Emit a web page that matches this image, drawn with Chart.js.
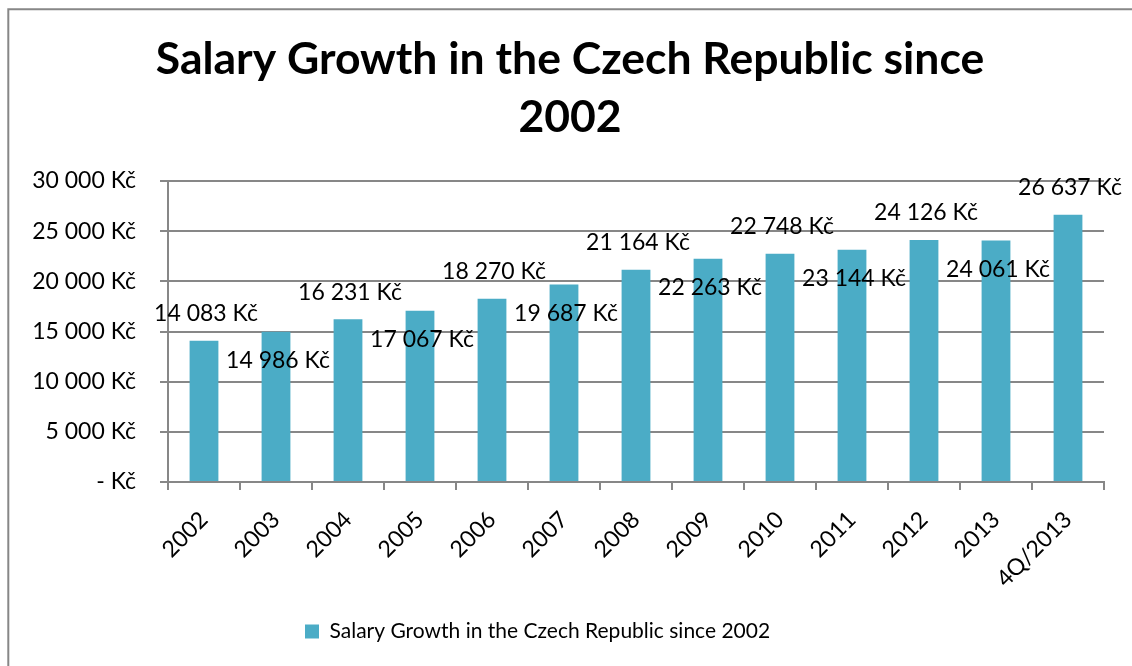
<!DOCTYPE html>
<html><head><meta charset="utf-8">
<script src="https://cdn.jsdelivr.net/npm/chart.js@4.4.1/dist/chart.umd.min.js"></script>
<style>html,body{margin:0;padding:0;background:#fff;overflow:hidden}canvas{display:block}</style>
</head><body>
<canvas id="c" width="1132" height="666"></canvas>
<script>
const titleLines = ['Salary Growth in the Czech Republic since', '2002'];
const seriesName = 'Salary Growth in the Czech Republic since 2002';
const categories = ['2002','2003','2004','2005','2006','2007','2008','2009','2010','2011','2012','2013','4Q/2013'];
const salaries = [14083,14986,16231,17067,18270,19687,21164,22263,22748,23144,24126,24061,26637];
const yTickValues = [0,5000,10000,15000,20000,25000,30000];

const BAR = '#4BACC6';
const GRID = '#878787';
const FONT = 'Lato';

function fmtKc(v){
  if (v === 0) return '- Kč';
  return String(v).replace(/\B(?=(\d{3})+(?!\d))/g, ' ') + ' Kč';
}

const framePlugin = {
  id: 'frame',
  beforeDraw(chart){
    const ctx = chart.ctx;
    ctx.save();
    ctx.fillStyle = '#fff';
    ctx.fillRect(0,0,chart.width,chart.height);
    ctx.strokeStyle = GRID;
    ctx.lineWidth = 2;
    ctx.beginPath();
    ctx.moveTo(8.3, chart.height + 5);
    ctx.lineTo(8.3, 9.3);
    ctx.lineTo(chart.width + 5, 9.3);
    ctx.stroke();
    ctx.restore();
  },
  afterLayout(chart){
    if (chart.titleBlock){ chart.titleBlock.left = 8; chart.titleBlock.right = 1132; }
    if (chart.legend){ chart.legend.left = 295; chart.legend.right = 1100; }
  }
};

const valueLabels = {
  id: 'valueLabels',
  afterDatasetsDraw(chart){
    const ctx = chart.ctx;
    const meta = chart.getDatasetMeta(0);
    ctx.save();
    ctx.font = '23px ' + FONT;
    ctx.fillStyle = '#000';
    ctx.textAlign = 'center';
    ctx.textBaseline = 'middle';
    meta.data.forEach((bar, i) => {
      const y = (i % 2 === 0) ? bar.y - 27 : bar.y + 29;
      ctx.fillText(fmtKc(salaries[i]), bar.x + 2, y);
    });
    ctx.restore();
  }
};

function build(){
  Chart.defaults.color = '#000';
  Chart.defaults.font.family = FONT;
  new Chart(document.getElementById('c'), {
    type: 'bar',
    data: {
      labels: categories,
      datasets: [{
        label: seriesName,
        data: salaries,
        backgroundColor: BAR,
        borderWidth: 0,
        categoryPercentage: 0.4,
        barPercentage: 1.0
      }]
    },
    options: {
      responsive: false,
      animation: false,
      layout: { padding: { left: 0, right: 28, top: 0, bottom: 14 } },
      plugins: {
        title: {
          display: true,
          text: titleLines,
          color: '#000',
          font: { family: FONT, size: 44.5, weight: 'bold', lineHeight: '58px' },
          padding: { top: 31, bottom: 34 }
        },
        legend: {
          display: true,
          position: 'bottom',
          align: 'start',
          labels: {
            color: '#000',
            font: { family: FONT, size: 21 },
            boxWidth: 14,
            boxHeight: 14,
            padding: 10
          }
        },
        tooltip: { enabled: false }
      },
      scales: {
        x: {
          offset: true,
          grid: { display: true, offset: true, drawOnChartArea: false, drawTicks: true, tickLength: 8, color: GRID, lineWidth: 2 },
          border: { display: true, color: GRID, width: 2 },
          ticks: { font: { family: FONT, size: 23 }, color: '#000', minRotation: 45, maxRotation: 45, padding: 16, autoSkip: false },
          afterFit(scale){ scale.height = 129; }
        },
        y: {
          min: 0, max: 30000,
          afterBuildTicks(scale){ scale.ticks = yTickValues.map(v => ({ value: v })); },
          grid: { color: GRID, lineWidth: 2, drawTicks: true, tickLength: 8 },
          border: { display: true, color: GRID, width: 2 },
          ticks: { font: { family: FONT, size: 23 }, color: '#000', padding: 24, callback: v => fmtKc(v) },
          afterFit(scale){ scale.width = 168; }
        }
      }
    },
    plugins: [framePlugin, valueLabels]
  });
}
if (document.fonts && document.fonts.load) {
  Promise.all([document.fonts.load('23px Lato'), document.fonts.load('bold 44px Lato')]).then(build, build);
} else build();
</script>
</body></html>
